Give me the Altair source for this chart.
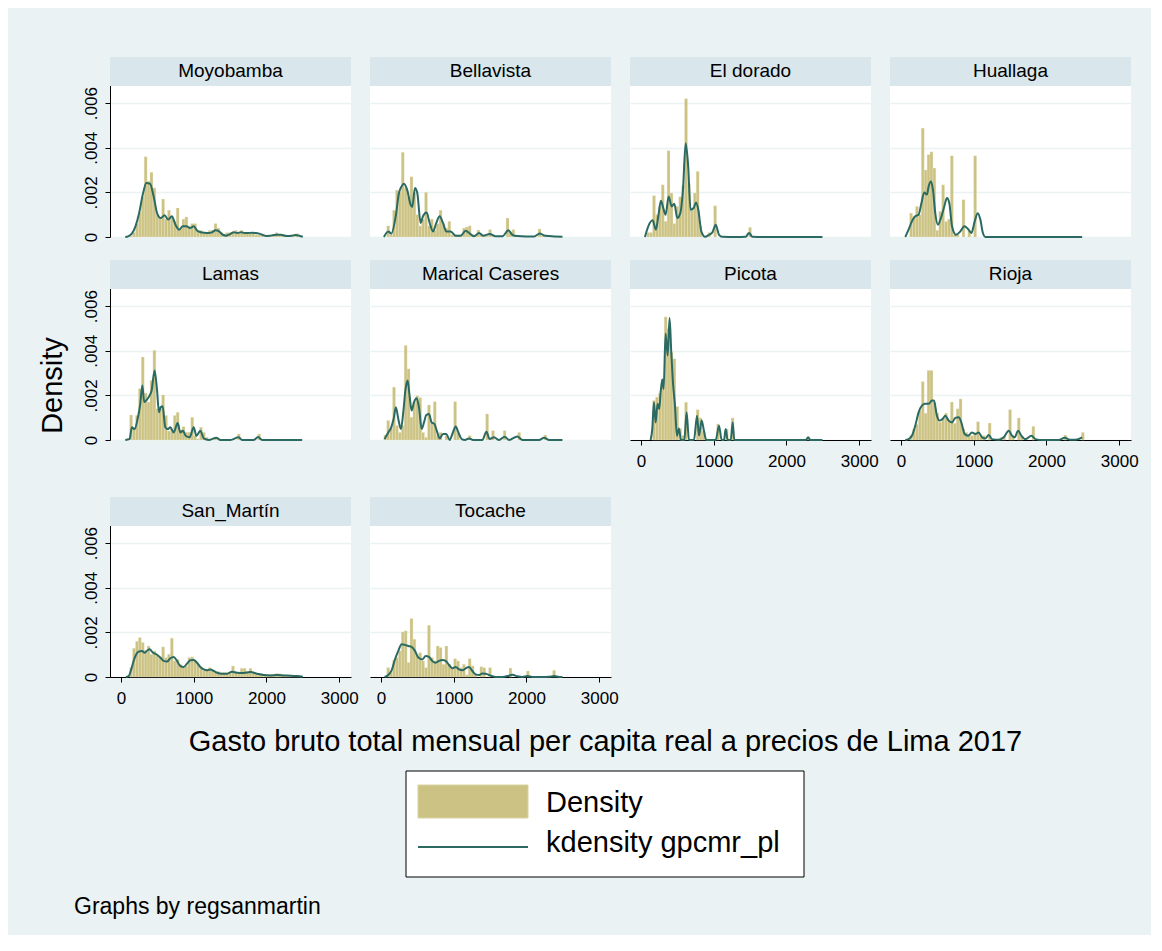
import altair as alt
import pandas as pd

# ---------------- data (density values in units of 1e-4) ----------------
REGIONS = ["Moyobamba", "Bellavista", "El dorado", "Huallaga", "Lamas",
           "Marical Caseres", "Picota", "Rioja", "San_Martín", "Tocache"]
BIN_WIDTH = 40
X_TICKS = [0, 1000, 2000, 3000]
Y_TICKS = [0, 20, 40, 60]          # 0, .002, .004, .006

moyobamba_bin = [120,160,200,240,280,320,360,400,440,480,520,560,600,640,680,720,760,800,840,880,920,960,1000,1040,1080,1120,1160,1200,1240,1280,1320,1360,1400,1440,1480,1520,1560,1600,1640,1680,1720,1760,1800,1840,1880,1920,1960,2000,2040,2080,2120,2160,2200,2240,2280,2320,2360,2400]
moyobamba_den = [0.5,2,6,11,18,36,25,29,22,10,9,17,8,12,9,7,13,4,8,9,5,6,6,3,3,2,2,3,3,6,4,2,1,2,2,2,3,2,3,2,2,2,2,1,1,1,1,0.5,0.5,1,2,1,1,1,0.5,0.5,1,1.5]
moyobamba_kx = [60,100,150,200,250,300,350,400,450,500,550,600,650,700,750,800,850,900,950,1000,1050,1100,1150,1200,1250,1300,1350,1400,1450,1500,1550,1600,1650,1700,1750,1800,1850,1900,1950,2000,2050,2100,2150,2200,2250,2300,2350,2400,2450,2500]
moyobamba_ky = [0,0.3,1.5,4.8,10.7,19,24.2,23.9,18.2,10.4,8.5,9.7,7.8,9.3,5.5,3.3,4.8,4.8,4.0,4.8,2.8,2.1,1.9,1.8,2.1,3.0,2.5,1.0,0.6,1.3,2.1,1.8,2.1,1.8,1.8,1.9,1.8,1.5,0.9,0.4,0.6,0.9,1.0,1.0,0.6,0.4,0.6,0.9,0.6,0.1]

bellavista_bin = [80,120,160,200,240,280,320,360,400,440,480,520,560,600,640,680,720,760,800,840,880,920,960,1000,1040,1080,1120,1160,1200,1240,1280,1320,1360,1400,1440,1480,1520,1720,1760,1800,1840,2160,2200,2240]
bellavista_den = [5,1,12,21,20,38,22,18,27,20,10,5,8,20,5,8,3,6,12,6,4,7,1,1,1,1,4,4.5,5,1,1,3.1,1,0.5,0.5,3.3,0.5,8.5,2,3.3,0.5,3.6,0.5,0.5]
bellavista_kx = [41,101,142,202,248,284,316,362,408,431,468,500,546,578,628,670,716,761,807,853,899,959,1028,1096,1165,1211,1280,1349,1404,1495,1578,1670,1752,1807,1876,1991,2105,2183,2243,2312,2495]
bellavista_ky = [0,2.5,1.5,9,19.7,22.7,23.9,21,14.5,13.5,22,19.7,6.3,9.3,11,6.3,2.5,6.3,9.3,6.3,2.5,2.5,0.6,0.6,2.8,1.8,0.3,1.8,0.6,1.3,0.3,0.3,3.0,1.0,0.4,0.2,0.2,1.6,0.7,0.4,0.1]

eldorado_bin = [80,120,160,200,240,280,320,360,400,440,480,520,560,600,640,680,720,760,800,920,1000,1480]
eldorado_den = [2,2,18.5,10,13.7,23.4,7,38.7,19.7,6,13.7,18,23,62,24,12,19.7,29.4,5,2,14,4.3]
eldorado_kx = [55,101,161,206,239,275,307,339,381,422,459,500,541,578,615,647,683,725,757,789,830,881,936,982,1028,1073,1119,1303,1440,1486,1532,1761,2495]
eldorado_ky = [0,4.8,7.5,3.3,9.3,16.3,13,10,18.2,13.7,14.9,8.5,10.7,21.2,42,33,12.2,13,15.5,12.2,2.5,0.1,1,2.1,5.5,1,0.1,0,0.1,1.8,0.1,0,0]

huallaga_bin = [120,160,200,240,280,320,360,400,440,480,520,560,600,640,680,720,760,840,920,1000]
huallaga_den = [10.7,9.3,13.7,10,48.8,30,36.9,38.2,30.9,3,11.5,23.4,7,8,36.4,1,1,16.7,3,36.4]
huallaga_kx = [60,105,151,197,243,280,321,358,381,413,440,472,509,550,596,633,665,702,757,817,872,922,968,1014,1055,1092,1124,1161,2491]
huallaga_ky = [0,3.3,7,9.3,10,14.9,20,19,22.7,24.9,21.2,10.7,5.5,8.5,13.7,17.5,15.2,4.8,1,2.5,4.8,3.6,1.8,7,10.7,7.8,2.1,0,0]

lamas_bin = [120,160,200,240,280,320,360,400,440,480,520,560,600,640,680,720,760,800,840,880,920,960,1000,1040,1080,1120,1160,1280,1600,1880]
lamas_den = [11.2,5.7,11,23,37.2,21,17,26.7,40.2,14,15,20.2,11,4,5,11,12.4,4.5,6,3.5,3.5,10.2,2,0.5,5.7,3.4,1.2,1.2,2.7,2.7]
lamas_kx = [60,119,151,188,229,266,294,321,358,394,422,463,495,523,546,573,610,642,679,725,780,817,853,890,945,1000,1037,1092,1138,1206,1312,1367,1505,1619,1665,1826,1885,1940,2491]
lamas_ky = [0,0.5,5.7,4.9,9.4,16.2,24.4,17,18.1,19.9,22.2,31.2,22.9,12.4,14.7,15.1,5.7,4.9,5.7,3.4,7.6,3.4,4.2,1.9,1.2,5.7,1.9,4.2,0.7,0,1,0,0,1.2,0,0,1.3,0,0]

marical_bin = [40,80,120,160,200,240,280,320,360,400,440,480,520,560,600,640,680,720,760,800,880,1000,1040,1200,1440,1520,1680,1880,2240]
marical_den = [2.2,8.7,5,23.7,6.5,3.4,6.5,42.4,31.9,10.2,17,19.9,19,3.4,1.2,15.7,7.9,17.2,2,3.4,2,17.2,3.4,2,11.7,4.2,4.2,3.4,2.2]
marical_kx = [50,101,142,174,206,239,275,307,339,367,394,422,454,491,523,560,592,624,660,697,734,775,807,853,899,945,982,1028,1064,1110,1156,1211,1266,1394,1450,1495,1555,1624,1702,1761,1876,1945,2174,2243,2312,2495]
marical_ky = [0.4,3.4,5.7,9.4,14.7,9.4,4.9,12.4,22.9,26.7,19.9,13.2,16.9,18.7,14.7,4.9,7.9,11.2,11.7,7.9,7.2,3.4,0.7,2.7,2.7,0,2.7,6.1,3.4,0.4,0,0.7,0,0,3.7,0.4,1.2,0,1.5,0,1.6,0,0,1,0,0]

picota_bin = [160,200,240,280,320,360,400,440,480,520,560,600,760,800,840,1040,1160,1240,2280]
picota_den = [17.7,19.2,21,27.4,55.2,50,39.4,36.4,15,5.2,2,16.9,13.6,9.9,4,7.2,4.9,9.9,1]
picota_kx = [133,156,179,202,229,252,271,294,312,339,367,394,417,440,468,495,523,550,596,628,660,729,771,798,835,867,899,1028,1073,1110,1142,1165,1193,1234,1261,1284,2266,2298,2330,2495]
picota_ky = [0,4.9,16.9,7.9,16.2,13.9,21.4,27.1,22.9,47.7,37.9,54.7,39.4,25.9,15.4,1.9,5.2,0,0,12.4,0,0,10.9,2,8.7,4,0,0,6.4,0,0,4.9,0,0,7.9,0,0,1.2,0,0]

rioja_bin = [120,160,200,240,280,320,360,400,440,480,520,560,600,640,680,720,760,800,840,880,920,960,1000,1040,1080,1120,1200,1320,1360,1400,1480,1520,1600,1640,1800,2240,2480]
rioja_den = [2,4.9,7,13.2,26.2,12,31.2,31.2,17,12,8,10,12,9,17,7.5,14,18.4,5,3.4,2,2,3.4,8.2,2,2,7.6,0.5,1.2,1.6,13.6,1.9,9.9,1.9,6.1,2.2,3.4]
rioja_kx = [60,105,151,197,243,289,335,381,427,454,495,532,573,610,656,702,748,794,830,876,922,977,1023,1069,1115,1161,1206,1252,1344,1413,1482,1528,1564,1610,1656,1711,1793,1849,1940,2170,2252,2330,2399,2491]
rioja_ky = [0,0.4,1.9,6.4,12.4,15.4,16.2,16.2,17.7,17.7,10.9,8.7,9.4,10.9,8.7,7.9,9.9,10.2,7.9,2.7,1.9,3.4,2.7,3.4,1.2,0.7,2.2,0.4,0.1,1.2,4.2,1.9,1.2,4.2,1.9,0.4,1.9,0.4,0,0,1,0.1,0.1,1.2]

sanmartin_bin = [120,160,200,240,280,320,360,400,440,480,520,560,600,640,680,720,760,800,840,880,920,960,1000,1040,1080,1120,1160,1200,1240,1280,1320,1360,1400,1440,1480,1520,1560,1600,1640,1680,1720,1760,1800,1840,1880,1920,1960,2000,2040,2080,2120,2160,2200,2240,2280,2320,2360,2400,2440]
sanmartin_den = [4.2,12.9,16,17.7,15.5,12,13.9,10.2,11.7,10.2,9,13.5,8.7,10.2,17.4,7.2,7.9,5.7,4.2,5,8.7,9,7.2,5.7,4.2,3,3.4,4.2,3,2.5,2.5,1.9,2,1.9,2,4.9,2,1.9,3.9,3.9,2.5,3.9,2,1.5,1.2,1.2,1,1,1.2,1.2,1.6,1.5,1.2,0.8,0.6,0.5,0.5,0.4,0.4]
sanmartin_kx = [69,106,142,174,211,243,289,326,367,394,440,486,541,587,633,679,725,771,817,862,908,954,1000,1046,1092,1138,1183,1229,1275,1321,1390,1459,1528,1596,1688,1780,1872,1963,2055,2147,2239,2330,2422,2500]
sanmartin_ky = [0,0.4,3.4,7.2,10.2,11.4,11.7,10.9,12,12.4,10.9,10.2,8.7,7.2,6.9,8.4,9,7.2,4.9,4.5,6,7.5,7.6,6.4,4.5,3.4,3,3.4,2.7,1.9,1.5,1.5,2.4,1.9,1.8,2.2,1.5,0.9,0.7,0.9,0.7,0.6,0.4,0.1]

tocache_bin = [80,120,160,200,240,280,320,360,400,440,480,520,560,600,640,680,720,760,800,840,880,920,960,1000,1040,1080,1120,1160,1200,1240,1280,1360,1400,1480,1760,2000,2360]
tocache_den = [4.2,2,7.5,8.7,11.7,20.2,20.7,6.5,26.2,16.9,10,10.9,7.2,4.2,23.2,8.7,7.2,13.9,13.2,5.7,13.9,5.7,4.2,8.2,7.2,4.2,5.7,1,8.2,5,1,4.6,4.2,4.2,4,2.7,3]
tocache_kx = [50,101,147,193,239,284,330,376,422,468,514,569,615,660,706,752,798,844,890,936,982,1028,1073,1119,1165,1211,1257,1303,1349,1394,1440,1509,1578,1670,1761,1807,1876,1945,2014,2083,2220,2312,2381,2450,2495]
tocache_ky = [0,0.9,3,7.9,11.7,14.7,14.4,13.9,13.5,11.7,8.7,7.9,9.4,9,7.2,6.4,7.2,7.6,7.2,5.4,3.9,4.5,3.4,3,3.9,4.5,2.7,1.2,0.9,1.6,1.5,0.6,0,0,0.6,1,0.3,0,0.4,0,0,0.1,0.4,0,0]

SERIES = {
    "Moyobamba": (moyobamba_bin, moyobamba_den, moyobamba_kx, moyobamba_ky),
    "Bellavista": (bellavista_bin, bellavista_den, bellavista_kx, bellavista_ky),
    "El dorado": (eldorado_bin, eldorado_den, eldorado_kx, eldorado_ky),
    "Huallaga": (huallaga_bin, huallaga_den, huallaga_kx, huallaga_ky),
    "Lamas": (lamas_bin, lamas_den, lamas_kx, lamas_ky),
    "Marical Caseres": (marical_bin, marical_den, marical_kx, marical_ky),
    "Picota": (picota_bin, picota_den, picota_kx, picota_ky),
    "Rioja": (rioja_bin, rioja_den, rioja_kx, rioja_ky),
    "San_Martín": (sanmartin_bin, sanmartin_den, sanmartin_kx, sanmartin_ky),
    "Tocache": (tocache_bin, tocache_den, tocache_kx, tocache_ky),
}

X_TITLE = "Gasto bruto total mensual per capita real a precios de Lima 2017"
Y_TITLE = "Density"
LEGEND_LABELS = ["Density", "kdensity gpcmr_pl"]
NOTE = "Graphs by regsanmartin"

# ---------------- style ----------------
FONT = "Liberation Sans"
BG = "#eaf2f3"
STRIP = "#d9e6eb"
BAR = "#cbc283"
LINE = "#2a6a62"
TICK_FS = 17

W = 241
STRIP_H = 29
PLOT_H = 151
H = STRIP_H + PLOT_H
Y_TOP = 67.7
Y_MAX = Y_TOP * H / PLOT_H
X_DOMAIN = [-150, 3162]


def make_panel(name, y_axis=False, x_axis=False, y_title=None, x_title=None, legend=False):
    bins, dens, kx, ky = SERIES[name]
    hist_df = pd.DataFrame({"lo": bins, "hi": [b + BIN_WIDTH for b in bins],
                            "dens": dens, "zero": [0] * len(bins)})
    kd_df = pd.DataFrame({"x": kx, "y": ky})
    xs = alt.Scale(domain=X_DOMAIN, nice=False, zero=False)
    ys = alt.Scale(domain=[0, Y_MAX], nice=False, zero=False)

    if x_axis:
        xkw = dict(values=X_TICKS, format="d", grid=False, domainColor="#000",
                   domainWidth=1, tickColor="#000", tickSize=5, tickWidth=1,
                   labelFontSize=TICK_FS, labelColor="#000", labelFont=FONT,
                   labelPadding=8, labelFlush=False, labelOverlap=False, zindex=0)
        if x_title:
            xkw.update(title=x_title, titleFontSize=29, titleFont=FONT,
                       titleFontWeight="normal", titleColor="#000", titleX=495,
                       titleY=73, titleAlign="center", titleBaseline="alphabetic")
        else:
            xkw.update(title=None)
        xa = alt.Axis(**xkw)
    else:
        xa = None

    if y_axis:
        ya = alt.Axis(values=Y_TICKS,
                      labelExpr="datum.value == 0 ? '0' : '.00' + (datum.value / 10)",
                      grid=True, gridColor=BG, gridWidth=1.6, domainColor="#000",
                      domainWidth=1, tickColor="#000", tickSize=5, tickWidth=1,
                      labelFontSize=TICK_FS, labelColor="#000", labelFont=FONT,
                      labelAngle=270, labelAlign="center", labelBaseline="alphabetic",
                      labelPadding=9, labelOverlap=False,
                      title=y_title, titleFontSize=29, titleFont=FONT,
                      titleFontWeight="normal", titleColor="#000", titleAngle=270,
                      titleX=-49, titleY=125, titleAlign="center",
                      titleBaseline="alphabetic", zindex=0)
    else:
        ya = alt.Axis(values=Y_TICKS, grid=True, gridColor=BG, gridWidth=1.6,
                      labels=False, ticks=False, domain=False, title=None, zindex=0)

    bars = alt.Chart(hist_df).mark_rect(color=BAR, stroke="#efeacb", strokeWidth=0.3).encode(
        x=alt.X("lo:Q", scale=xs, axis=xa), x2="hi:Q",
        y=alt.Y("dens:Q", scale=ys, axis=ya), y2="zero:Q")
    line = alt.Chart(kd_df).mark_line(color=LINE, strokeWidth=2, interpolate="monotone").encode(
        x=alt.X("x:Q", scale=xs, axis=xa),
        y=alt.Y("y:Q", scale=ys, axis=ya))

    strip_df = pd.DataFrame({"label": [name]})
    strip = alt.Chart(strip_df).mark_rect(color=STRIP).encode(
        x=alt.value(0), x2=alt.value(W), y=alt.value(0), y2=alt.value(STRIP_H))
    label = alt.Chart(strip_df).mark_text(font=FONT, fontSize=19, fontWeight="normal",
                                          color="#000", align="center",
                                          baseline="alphabetic").encode(
        x=alt.value(W / 2), y=alt.value(20), text="label:N")

    layers = [bars, line, strip, label]

    if legend:
        one = pd.DataFrame({"k": [0]})
        box = alt.Chart(one).mark_rect(fill="white", stroke="#000", strokeWidth=1).encode(
            x=alt.value(296), x2=alt.value(694), y=alt.value(274), y2=alt.value(380))
        sw = alt.Chart(one).mark_rect(fill=BAR, stroke="#dad3a2", strokeWidth=1).encode(
            x=alt.value(308), x2=alt.value(418), y=alt.value(288), y2=alt.value(321))
        ln = alt.Chart(one).mark_rule(color=LINE, strokeWidth=2).encode(
            x=alt.value(308), x2=alt.value(418), y=alt.value(350))
        t1 = alt.Chart(pd.DataFrame({"t": [LEGEND_LABELS[0]]})).mark_text(
            font=FONT, fontSize=29, fontWeight="normal", color="#000", align="left",
            baseline="alphabetic").encode(x=alt.value(436), y=alt.value(315), text="t:N")
        t2 = alt.Chart(pd.DataFrame({"t": [LEGEND_LABELS[1]]})).mark_text(
            font=FONT, fontSize=29, fontWeight="normal", color="#000", align="left",
            baseline="alphabetic").encode(x=alt.value(436), y=alt.value(355), text="t:N")
        note = alt.Chart(pd.DataFrame({"t": [NOTE]})).mark_text(
            font=FONT, fontSize=23, fontWeight="normal", color="#000", align="left",
            baseline="alphabetic").encode(x=alt.value(-36), y=alt.value(417), text="t:N")
        layers += [box, sw, ln, t1, t2, note]

    return alt.layer(*layers).properties(width=W, height=H)


p = {}
p["Moyobamba"] = make_panel("Moyobamba", y_axis=True, y_title=" ")
p["Bellavista"] = make_panel("Bellavista")
p["El dorado"] = make_panel("El dorado")
p["Huallaga"] = make_panel("Huallaga")
p["Lamas"] = make_panel("Lamas", y_axis=True, y_title=Y_TITLE)
p["Marical Caseres"] = make_panel("Marical Caseres")
p["Picota"] = make_panel("Picota", x_axis=True)
p["Rioja"] = make_panel("Rioja", x_axis=True)
p["San_Martín"] = make_panel("San_Martín", y_axis=True, y_title=" ", x_axis=True,
                             x_title=X_TITLE, legend=True)
p["Tocache"] = make_panel("Tocache", x_axis=True)

rows = [REGIONS[0:4], REGIONS[4:8], REGIONS[8:10]]
row_charts = [alt.hconcat(*[p[n] for n in r], spacing=19, bounds="flush") for r in rows]

chart = alt.vconcat(
    alt.vconcat(row_charts[0], row_charts[1], spacing=18),
    row_charts[2],
    spacing=28,
).properties(
    padding={"left": 30, "top": 49, "right": 12, "bottom": 16}
).configure(
    background=BG, font=FONT
).configure_view(
    fill="white", strokeWidth=0
)

chart.save("out.html", embed_options={"renderer": "svg", "actions": False})
